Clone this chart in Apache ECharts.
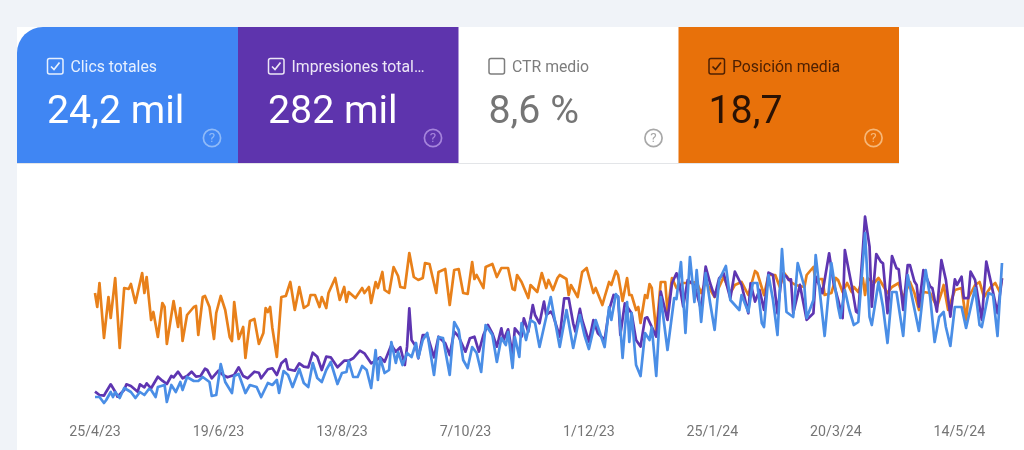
<!DOCTYPE html>
<html><head><meta charset="utf-8">
<script src="https://cdn.jsdelivr.net/npm/echarts@6/dist/echarts.min.js"></script>
<style>html,body{margin:0;padding:0;background:#fff}#c{width:1024px;height:450px}</style>
</head><body><div id="c"></div>
<script>
const tickDays=[0,55,110,165,220,275,330,385];
const tickLabels=['25/4/23','19/6/23','13/8/23','7/10/23','1/12/23','25/1/24','20/3/24','14/5/24'];

const positionDays=[0,1,2,4,6,7,9,11,13,15,16,18,21,22,23,25,26,28,30,31,32,35,37,38,39,41,44,45,46,48,49,51,53,54,56,58,60,61,62,64,66,67,69,71,73,75,76,77,78,79,81,83,85,87,89,91,93,95,96,98,100,101,103,104,107,109,111,112,113,116,119,120,122,123,125,126,128,129,131,133,135,136,138,140,142,144,146,147,149,152,153,156,158,160,162,164,166,168,169,170,173,174,177,179,181,184,186,187,188,190,193,194,197,199,201,202,204,206,207,210,211,212,215,217,219,222,223,226,227,229,230,232,233,235,237,238,239,241,242,243,245,246,247,248,250,252,254,255,257,259,262,265,268,270,272,276,280,283,285,288,291,294,295,298,300,303,305,307,310,312,316,317,320,321,323,324,325,328,330,331,333,335,337,338,340,342,343,344,347,349,353,355,358,360,363,365,367,369,372,375,377,378,380,383,386,388,389,392,394,396,399,401,403,404];
const positionValues=[19.3,20.7,18.3,23.8,19.7,21.8,17.8,24.8,18.8,18.9,18.4,20.3,17.3,19.3,17.7,22,21.2,23.7,20.3,20.7,24.4,20.1,22.7,20.8,24.1,21.5,20.7,20.6,23.5,19.7,19.6,20.7,23.9,21.3,19.6,21,23.7,24.1,20.2,23.9,22.7,25.8,22.1,21.9,24.4,23.3,20.8,21.2,20.7,22.8,25.7,19.7,19.6,18.2,21,18.7,20.8,20.5,19.5,19.5,20.7,19.7,20.8,19.3,17.8,20,18.7,20.2,19.2,19.8,18.8,19.3,18.7,20.3,18.2,18.8,17.2,19,19.3,16.7,17.6,18.7,18.8,15.3,17.7,18,17.8,16.3,16.4,19.3,17.2,16.9,20.5,17,16.9,19.3,19.4,16.2,17.9,17.5,18.8,16.7,16.4,17.7,16.8,16.8,18.9,19,17.5,18.2,19.8,18.5,19.2,17.3,18.8,18,19,17.8,17.5,17.9,19.5,18.5,19.7,17.2,16.8,19.3,18.8,20.5,19.7,18.2,18.5,17.1,17.5,20.1,17.8,19.5,19.5,21,20.7,22.3,19.5,19.8,18.4,18.8,23.2,18.2,18.2,21.2,17.8,18.8,18.3,18.3,18.2,19.3,18.2,19.7,17.7,19.3,18.5,18.2,19.5,17.1,17.3,19.5,17.5,17.5,18.7,17.3,18.2,18.5,18.7,17.5,16.7,18.2,17.9,17.9,19.5,19.3,17.8,18,19.2,18.3,19.2,18.7,19.2,17.8,19.5,17.8,18.3,17.8,19.3,18.7,18.3,19.8,18.2,19.3,21,19.2,19.3,20.7,19.3,18.5,21,19,18.8,22,19.8,18.5,18.2,19.7,18.7,18.3,19.2,17.8];

const impressionDays=[0,2,4,5,7,9,10,13,14,16,19,20,22,23,25,28,30,32,34,35,37,39,41,43,45,47,49,50,52,55,57,59,62,64,66,68,71,73,74,77,79,81,83,85,86,89,91,93,95,97,99,101,103,105,108,111,113,115,118,120,123,125,127,129,132,134,136,138,139,140,141,143,144,146,148,151,153,156,158,160,162,165,167,169,171,173,175,177,179,181,182,184,186,187,190,191,193,195,196,198,200,201,203,204,207,209,211,213,214,216,217,220,222,224,227,229,231,233,234,236,239,241,243,245,246,250,252,255,257,259,260,262,264,267,270,272,274,276,278,280,283,285,288,291,292,294,296,298,300,302,304,306,308,309,310,311,314,317,320,321,324,327,329,331,333,334,337,339,340,342,343,345,346,348,350,351,353,355,357,358,360,362,363,365,366,367,369,372,373,375,377,379,381,383,384,386,387,389,390,392,395,397,399,402,404];
const impressionValues=[183,150,143,183,257,183,133,200,257,240,183,257,227,267,217,333,293,260,340,327,383,317,340,383,333,340,413,400,317,393,350,327,350,427,340,317,383,373,317,407,417,350,467,507,407,393,467,433,427,573,533,400,533,527,427,493,493,517,593,567,467,493,527,483,650,583,627,450,633,1017,700,633,517,750,750,527,733,667,550,783,733,583,717,733,583,750,850,767,633,817,700,807,550,817,733,917,783,1050,950,867,1084,950,984,950,734,1117,1117,867,784,1011,900,684,900,767,700,1001,1150,1134,750,1067,967,700,634,917,927,734,1184,900,1267,1367,1300,1034,1300,1250,1001,1434,1267,1134,1317,1367,1117,1384,1250,967,1267,1084,1200,1001,1374,1350,967,1367,1334,1301,1307,968,1251,901,968,1334,1168,1567,1267,1101,918,1600,1251,984,968,1600,1933,1634,1034,1560,1484,1467,968,1540,1417,1407,1001,1450,1450,1284,1251,1034,1400,1234,1218,984,1500,1301,934,1307,1251,1334,1118,1118,1384,1301,901,1484,1284,968,1317];

const clickDays=[0,2,4,5,7,8,9,11,13,16,18,20,22,24,25,27,28,31,32,34,36,38,39,41,44,46,48,51,52,54,56,58,61,62,64,67,69,72,74,77,79,81,82,84,86,88,91,93,95,97,99,101,103,105,108,110,112,113,115,117,119,121,123,125,126,127,129,131,132,134,135,137,139,141,143,144,146,148,151,153,155,158,160,162,164,166,168,170,172,174,177,179,181,183,184,186,187,189,190,192,194,196,198,203,204,207,210,213,216,218,220,223,227,229,230,232,233,235,237,238,239,241,243,245,247,248,250,252,255,258,259,261,263,265,267,268,270,272,274,276,278,281,283,287,288,291,293,295,297,298,300,302,304,306,308,311,313,316,317,320,321,323,325,328,331,332,334,336,338,340,343,345,346,349,351,353,355,357,360,362,364,367,370,372,374,376,378,379,381,383,386,388,392,394,395,398,400,402,404];
const clickValues=[13,13,7,10,18,13,18,12,22,18,12,18,15,21,20,13,23,25,8,25,18,28,20,33,29,29,33,28,14,15,46,28,17,34,36,17,25,23,13,27,25,30,17,39,35,23,41,27,23,47,32,28,40,48,26,37,38,49,33,33,44,40,22,60,30,52,37,40,68,47,58,45,57,53,67,52,70,77,35,73,72,35,88,80,50,42,63,57,38,85,75,48,72,65,78,42,73,53,87,70,90,87,63,113,100,63,100,62,95,75,61,90,63,103,90,116,113,52,108,68,97,45,34,77,70,83,34,113,60,112,111,148,77,153,108,140,88,137,107,80,130,144,110,100,115,98,127,127,87,83,135,110,75,161,98,93,147,123,92,110,155,115,74,147,103,92,120,100,85,88,177,93,85,128,103,67,118,118,74,135,112,79,140,113,68,93,98,83,64,103,103,82,122,85,83,117,115,74,147];

const white='#ffffff', bg='#f0f3f8';
function text(x,y,s,size,fill,extra){return {type:'text',x:x,y:y,silent:true,style:Object.assign({text:s,fontFamily:'Roboto',fontSize:size,fill:fill,textVerticalAlign:'middle',verticalAlign:'middle'},extra||{})};}
function card(x,w,fill,labelText,valueText,fg,labelFg,helpFg,checked,r){
  const out=[];
  if(fill) out.push({type:'rect',shape:{x:x,y:27,width:w,height:136,r:r||0},style:{fill:fill}});
  const bx=x+30.5;
  out.push({type:'rect',shape:{x:bx,y:58.5,width:15.5,height:15.5,r:2},style:{fill:'transparent',stroke:labelFg,lineWidth:1.5}});
  if(checked) out.push({type:'polyline',shape:{points:[[bx+3.5,66.5],[bx+6.5,69.5],[bx+12,62.5]]},style:{fill:'none',stroke:labelFg,lineWidth:1.7}});
  out.push(text(x+53.5,68.5,labelText,15.8,labelFg));
  out.push(text(x+30,113,valueText,39.3,fg));
  out.push({type:'circle',shape:{cx:x+195,cy:138,r:8.6},style:{fill:'transparent',stroke:helpFg,lineWidth:1.7}});
  out.push(text(x+195,139,'?',13.5,helpFg,{textAlign:'center',align:'center'}));
  return out;
}
const graphics=[
  {type:'rect',shape:{x:0,y:0,width:1024,height:27},style:{fill:bg}},
  {type:'rect',shape:{x:0,y:0,width:17,height:450},style:{fill:bg}},
  {type:'rect',shape:{x:17,y:163,width:882,height:1},style:{fill:'#e3e5e8'}},
  ...card(17,221,'#4086f3','Clics totales','24,2 mil','#ffffff','#e6f0fe','#8fbaf8',true,[26,0,0,0]),
  ...card(238,220.5,'#5e34ad','Impresiones total…','282 mil','#ffffff','#ece6f6','#a685dc',true),
  ...card(458.5,220,null,'CTR medio','8,6 %','#757575','#7d7d7d','#a8a8a8',false),
  ...card(678.5,220.5,'#e8710a','Posición media','18,7','#2a1204','#4d2003','#f6b778',true)
];
function zip(a,b){return a.map((d,i)=>[d,b[i]]);}
const chart=echarts.init(document.getElementById('c'),null,{renderer:'canvas'});
function line(name,idx,days,vals,color,z){
  return {name:name,type:'line',yAxisIndex:idx,data:zip(days,vals),showSymbol:false,symbol:'none',smooth:false,z:z,clip:false,
    lineStyle:{color:color,width:2.7,join:'round'},itemStyle:{color:color},animation:false};
}
chart.setOption({
  animation:false,backgroundColor:white,
  graphic:{elements:graphics},
  grid:{left:95,right:22,top:200,bottom:40},
  xAxis:{type:'value',min:0,max:404,splitLine:{show:false},axisLine:{show:false},axisTick:{show:false},
    axisLabel:{customValues:tickDays,formatter:v=>tickLabels[tickDays.indexOf(v)],hideOverlap:false,showMinLabel:true,showMaxLabel:true,color:'#757575',fontFamily:'Roboto',fontSize:14.2,margin:15}},
  yAxis:[
    {type:'value',min:0,max:210,show:false},
    {type:'value',min:0,max:2100,show:false},
    {type:'value',min:10,max:31,inverse:true,show:false}
  ],
  series:[
    line('Posición media',2,positionDays,positionValues,'#e8801a',2),
    line('Impresiones totales',1,impressionDays,impressionValues,'#5e35b1',3),
    line('Clics totales',0,clickDays,clickValues,'#4a8ee6',4)
  ]
});
</script></body></html>
